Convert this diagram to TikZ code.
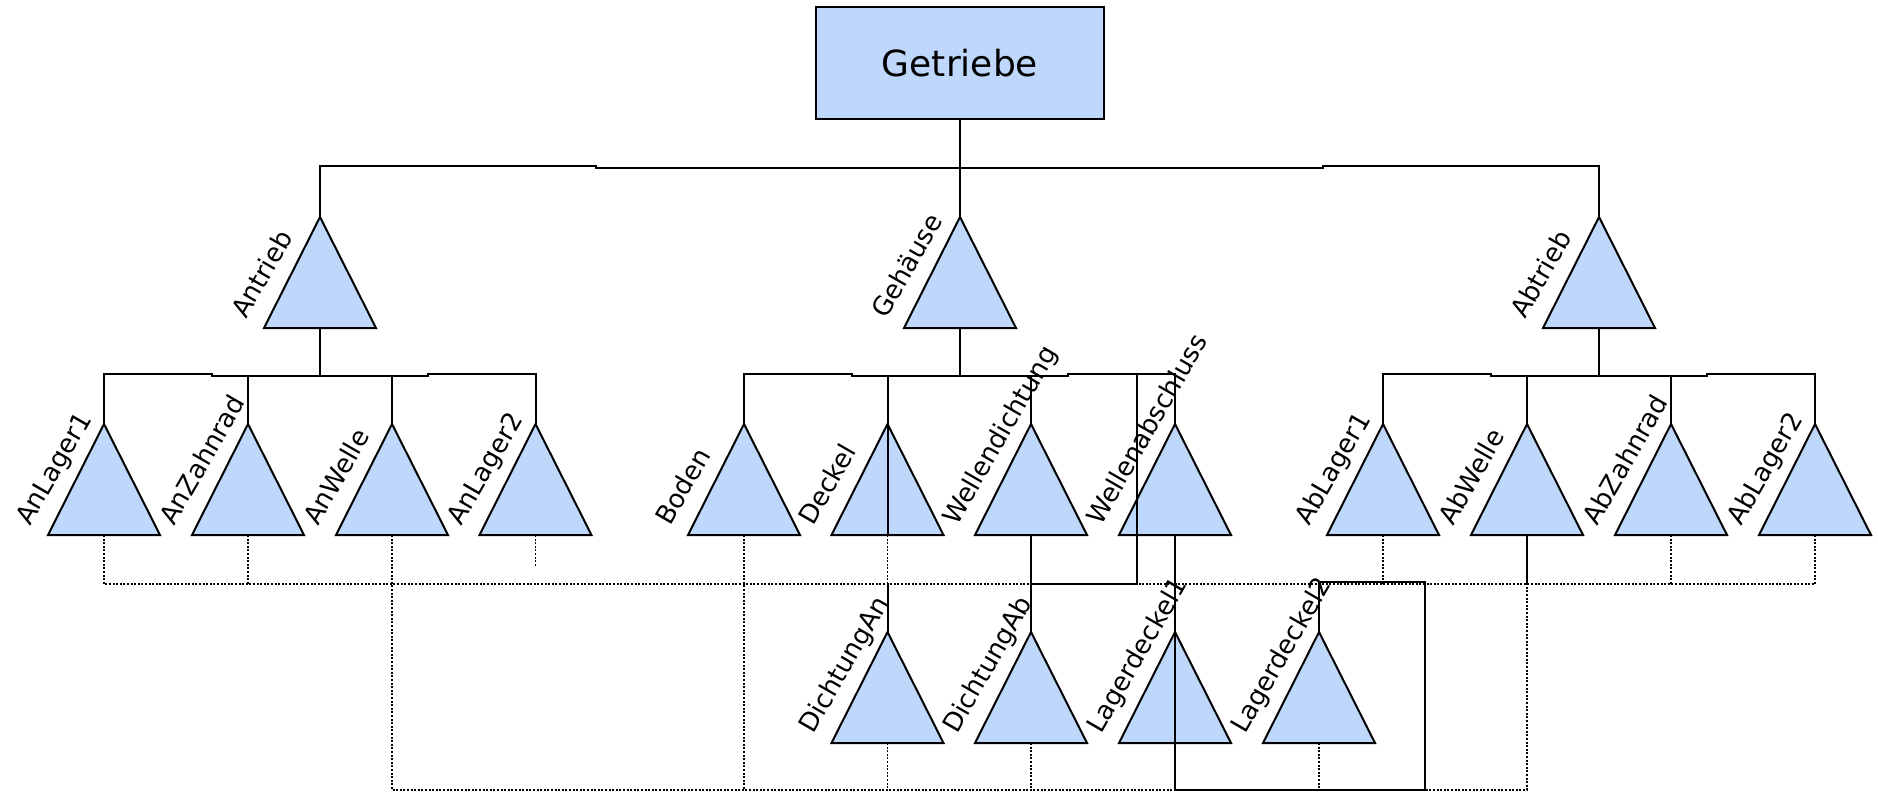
\documentclass[tikz,border=0pt]{standalone}
\usepackage{fontspec}
\setmainfont{DejaVu Sans}
\definecolor{tfill}{RGB}{191,215,250}
\begin{document}
\begin{tikzpicture}[x=1pt,y=-1pt,
  edge/.style={line width=2pt, line join=miter},
  dot/.style={line width=1.6pt, dash pattern=on 2pt off 1.6pt},
  trishape/.style={draw, fill=tfill, line width=2pt, line join=miter},
  box/.style={draw, fill=tfill, line width=2pt, minimum width=288pt, minimum height=112pt, inner sep=0pt, font=\fontsize{36}{43}\selectfont},
  lbl/.style={anchor=base west, rotate=60, inner sep=0pt, font=\fontsize{26}{31}\selectfont},
  pics/tri/.style={code={
    \draw[trishape] (-56,0) -- (0,-111) -- (56,0) -- cycle;
    \coordinate (-top) at (0,-111);
    \coordinate (-bot) at (0,0);}}
]
\useasboundingbox (0,0) rectangle (1878,793);

% root
\node[box] (Getriebe) at (960,63) {Getriebe};

% level 1
\pic (Antrieb) at (320,328) {tri};
\pic (Gehaeuse) at (960,328) {tri};
\pic (Abtrieb) at (1599,328) {tri};

% level 2
\pic (AnLager1) at (104,535) {tri};
\pic (AnZahnrad) at (248,535) {tri};
\pic (AnWelle) at (392,535) {tri};
\pic (AnLager2) at (535.5,535) {tri};
\pic (Boden) at (744,535) {tri};
\pic (Deckel) at (887.5,535) {tri};
\pic (Wellendichtung) at (1031,535) {tri};
\pic (Wellenabschluss) at (1175,535) {tri};
\pic (AbLager1) at (1383,535) {tri};
\pic (AbWelle) at (1527,535) {tri};
\pic (AbZahnrad) at (1671,535) {tri};
\pic (AbLager2) at (1815,535) {tri};

% level 3
\pic (DichtungAn) at (887.5,743) {tri};
\pic (DichtungAb) at (1031,743) {tri};
\pic (Lagerdeckel1) at (1175,743) {tri};
\pic (Lagerdeckel2) at (1319,743) {tri};

% labels
\node[lbl] (lAntrieb) at ([shift={(-74,-8)}]Antrieb-bot) {Antrieb};
\node[lbl] (lGehaeuse) at ([shift={(-74,-8)}]Gehaeuse-bot) {Gehäuse};
\node[lbl] (lAbtrieb) at ([shift={(-74,-8)}]Abtrieb-bot) {Abtrieb};
\node[lbl] (lAnLager1) at ([shift={(-74,-8)}]AnLager1-bot) {AnLager1};
\node[lbl] (lAnZahnrad) at ([shift={(-74,-8)}]AnZahnrad-bot) {AnZahnrad};
\node[lbl] (lAnWelle) at ([shift={(-74,-8)}]AnWelle-bot) {AnWelle};
\node[lbl] (lAnLager2) at ([shift={(-74,-8)}]AnLager2-bot) {AnLager2};
\node[lbl] (lBoden) at ([shift={(-74,-8)}]Boden-bot) {Boden};
\node[lbl] (lDeckel) at ([shift={(-74,-8)}]Deckel-bot) {Deckel};
\node[lbl] (lWellendichtung) at ([shift={(-74,-8)}]Wellendichtung-bot) {Wellendichtung};
\node[lbl] (lWellenabschluss) at ([shift={(-74,-8)}]Wellenabschluss-bot) {Wellenabschluss};
\node[lbl] (lAbLager1) at ([shift={(-74,-8)}]AbLager1-bot) {AbLager1};
\node[lbl] (lAbWelle) at ([shift={(-74,-8)}]AbWelle-bot) {AbWelle};
\node[lbl] (lAbZahnrad) at ([shift={(-74,-8)}]AbZahnrad-bot) {AbZahnrad};
\node[lbl] (lAbLager2) at ([shift={(-74,-8)}]AbLager2-bot) {AbLager2};
\node[lbl] (lDichtungAn) at ([shift={(-74,-8)}]DichtungAn-bot) {DichtungAn};
\node[lbl] (lDichtungAb) at ([shift={(-74,-8)}]DichtungAb-bot) {DichtungAb};
\node[lbl] (lLagerdeckel1) at ([shift={(-74,-8)}]Lagerdeckel1-bot) {Lagerdeckel1};
\node[lbl] (lLagerdeckel2) at ([shift={(-74,-8)}]Lagerdeckel2-bot) {Lagerdeckel2};

% top level edges
\draw[edge] (Getriebe.south) -- (Gehaeuse-top);
\draw[edge] (Getriebe.south) |- (596,168) -- (596,166) -| (Antrieb-top);
\draw[edge] (Getriebe.south) |- (1323,168) -- (1323,166) -| (Abtrieb-top);

% Antrieb group
\draw[edge] (Antrieb-bot) |- (212,376) -- (212,374) -| (AnLager1-top);
\draw[edge] (Antrieb-bot) -- (320,376) -| (AnZahnrad-top);
\draw[edge] (Antrieb-bot) -- (320,376) -| (AnWelle-top);
\draw[edge] (Antrieb-bot) |- (428,376) -- (428,374) -| (AnLager2-top);

% Gehaeuse group
\draw[edge] (Gehaeuse-bot) |- (852,376) -- (852,374) -| (Boden-top);
\draw[edge] (Gehaeuse-bot) -- (960,376) -| (Deckel-top);
\draw[edge] (Gehaeuse-bot) -- (960,376) -| (Wellendichtung-top);
\draw[edge] (Gehaeuse-bot) |- (1068,376) -- (1068,374) -| (Wellenabschluss-top);

% Abtrieb group
\draw[edge] (Abtrieb-bot) |- (1491,376) -- (1491,374) -| (AbLager1-top);
\draw[edge] (Abtrieb-bot) -- (1599,376) -| (AbWelle-top);
\draw[edge] (Abtrieb-bot) -- (1599,376) -| (AbZahnrad-top);
\draw[edge] (Abtrieb-bot) |- (1707,376) -- (1707,374) -| (AbLager2-top);

% dotted relations
\draw[dot] (AnLager1-bot) |- (1815,584);
\draw[dot] (AnZahnrad-bot) -- (248,584);
\draw[dot] (AnWelle-bot) |- (1527,790) -- (1527,584);
\draw[dot] (AnLager2-bot) -- (535.5,566);
\draw[dot] (Boden-bot) -- (744,790);
\draw[dot] (Deckel-bot) -- (887.5,584);
\draw[dot] (DichtungAn-bot) -- (887.5,790);
\draw[dot] (DichtungAb-bot) -- (1031,790);
\draw[dot] (Lagerdeckel2-bot) -- (1319,790);
\draw[dot] (AbLager1-bot) -- (1383,584);
\draw[dot] (AbZahnrad-bot) -- (1671,584);
\draw[dot] (AbLager2-bot) -- (1815,584);

% extra solid relations
\draw[edge] (Deckel-top) -- (Deckel-bot);
\draw[edge] (887.5,584) -- (DichtungAn-top);
\draw[edge] (Wellendichtung-bot) -- (DichtungAb-top);
\draw[edge] (1031,584) -- (1136.5,584) -- (1136.5,375);
\draw[edge] (Wellenabschluss-bot) -- (Lagerdeckel1-top);
\draw[edge] (Lagerdeckel1-top) -- (1175,790) -- (1425,790) -- (1425,582) -| (Lagerdeckel2-top);
\draw[edge] (AbWelle-bot) -- (1527,584);
\end{tikzpicture}
\end{document}
